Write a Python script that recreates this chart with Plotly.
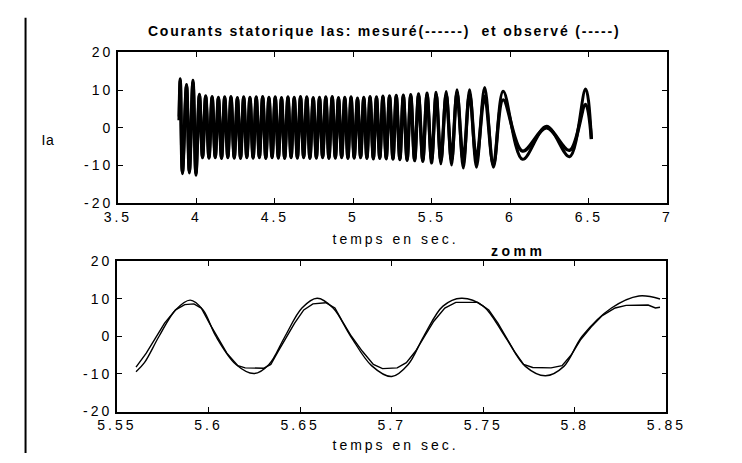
import plotly.graph_objects as go

# ---- Upper panel: stator current Ia, extrema of each oscillation (s, A) ----
top_t = [3.890, 3.897, 3.911, 3.937, 3.955, 3.978, 3.997, 4.019, 4.039, 4.059,
         4.080, 4.100, 4.120, 4.140, 4.160, 4.180, 4.200, 4.220, 4.241, 4.261,
         4.281, 4.301, 4.321, 4.341, 4.361, 4.381, 4.401, 4.422, 4.442, 4.462,
         4.482, 4.502, 4.522, 4.542, 4.562, 4.583, 4.603, 4.623, 4.643, 4.663,
         4.683, 4.703, 4.723, 4.744, 4.764, 4.784, 4.804, 4.824, 4.844, 4.865,
         4.885, 4.905, 4.925, 4.945, 4.965, 4.985, 5.005, 5.026, 5.046, 5.066,
         5.086, 5.106, 5.127, 5.147, 5.168, 5.188, 5.209, 5.230, 5.252, 5.273,
         5.296, 5.318, 5.342, 5.365, 5.390, 5.415, 5.442, 5.469, 5.498, 5.527,
         5.557, 5.591, 5.625, 5.660, 5.700, 5.740, 5.784, 5.836, 5.892, 5.954,
         6.077, 6.230, 6.377, 6.479, 6.516]
top_obs = [3.0, 13.0, -12.2, 11.5, -12.0, 12.6, -12.6, 8.9, -8.0, 8.5,
           -8.1, 8.3, -8.0, 8.1, -8.2, 8.2, -8.0, 8.3, -8.1, 8.0,
           -8.2, 8.2, -8.0, 8.1, -8.1, 8.2, -8.0, 8.3, -8.2, 8.1,
           -8.0, 8.2, -8.1, 8.0, -8.2, 8.2, -8.0, 8.1, -8.1, 8.3,
           -8.0, 8.2, -8.2, 8.0, -8.1, 8.1, -8.0, 8.2, -8.2, 8.3,
           -8.1, 8.0, -8.0, 8.1, -8.2, 8.2, -8.1, 7.9, -8.0, 8.1,
           -8.2, 8.3, -8.3, 8.2, -8.2, 8.4, -8.3, 8.5, -8.4, 8.6,
           -8.5, 8.7, -8.7, 8.8, -8.8, 9.0, -9.0, 9.2, -9.4, 9.4,
           -9.6, 9.6, -9.9, 10.1, -10.7, 10.1, -10.5, 10.7, -10.5, 9.7,
           -8.4, 0.4, -7.7, 10.3, -3.0]
top_mes = [2.0, 12.4, -11.8, 11.0, -11.5, 12.0, -12.0, 8.5, -7.7, 8.2,
           -7.8, 8.0, -7.7, 7.8, -7.9, 7.9, -7.7, 8.0, -7.8, 7.7,
           -7.9, 7.9, -7.7, 7.8, -7.8, 7.9, -7.7, 8.0, -7.9, 7.8,
           -7.7, 7.9, -7.8, 7.7, -7.9, 7.9, -7.7, 7.8, -7.8, 8.0,
           -7.7, 7.9, -7.9, 7.7, -7.8, 7.8, -7.7, 7.9, -7.9, 8.0,
           -7.8, 7.7, -7.7, 7.8, -7.9, 7.9, -7.8, 7.6, -7.7, 7.8,
           -7.9, 8.0, -8.0, 7.9, -7.9, 8.1, -8.0, 8.2, -8.1, 8.3,
           -8.2, 8.3, -8.3, 8.4, -8.4, 8.5, -8.5, 8.6, -8.4, 8.6,
           -8.5, 8.6, -8.4, 8.9, -8.6, 9.0, -8.3, 8.4, -9.8, 7.4,
           -6.2, 0.0, -6.0, 6.2, -3.0]

# ---- Lower panel: zoom on 5.55 - 5.85 s ----
zoom_obs_t = [5.5604, 5.5650, 5.5730, 5.5820, 5.5900, 5.5970, 5.6040, 5.6150,
              5.6250, 5.6330, 5.6418, 5.6510, 5.6593, 5.6680, 5.6776, 5.6890,
              5.7000, 5.7090, 5.7175, 5.7280, 5.7380, 5.7500, 5.7618, 5.7730,
              5.7840, 5.7940, 5.8040, 5.8200, 5.8350, 5.8465]
zoom_obs = [-9.4, -7.0, 0.0, 7.0, 9.6, 7.0, 0.0, -7.5,
            -9.9, -7.5, 0.0, 7.5, 10.1, 7.5, 0.0, -7.8,
            -10.7, -7.5, 0.0, 8.0, 10.1, 8.0, 0.0, -8.0,
            -10.5, -8.0, 0.0, 7.5, 10.7, 9.9]
zoom_mes_t = [5.5604, 5.5660, 5.5710, 5.5760, 5.5820, 5.5870, 5.5920, 5.5960,
              5.6010, 5.6050, 5.6100, 5.6160, 5.6200, 5.6300, 5.6340, 5.6380,
              5.6420, 5.6470, 5.6520, 5.6570, 5.6640, 5.6690, 5.6730, 5.6780,
              5.6840, 5.6900, 5.6950, 5.7030, 5.7080, 5.7130, 5.7180, 5.7230,
              5.7290, 5.7350, 5.7470, 5.7530, 5.7580, 5.7620, 5.7670, 5.7720,
              5.7770, 5.7870, 5.7930, 5.7980, 5.8030, 5.8090, 5.8150, 5.8220,
              5.8280, 5.8400, 5.8440, 5.8465]
zoom_mes = [-8.2, -4.5, -0.5, 3.5, 7.0, 8.4, 8.6, 7.5,
            3.0, -0.5, -4.5, -7.8, -8.4, -8.5, -7.5, -4.0,
            -0.5, 3.5, 7.0, 8.6, 8.9, 7.5, 4.0, 0.0,
            -4.0, -7.5, -8.6, -8.4, -7.0, -4.0, 0.0, 4.0,
            7.5, 9.0, 9.0, 7.0, 3.5, 0.0, -4.0, -7.5,
            -8.3, -8.4, -7.8, -5.0, -1.0, 2.5, 5.5, 7.5,
            8.2, 8.3, 7.5, 7.7]

top_xticks = [3.5, 4, 4.5, 5, 5.5, 6, 6.5, 7]
top_xtext = ["3.5", "4", "4.5", "5", "5.5", "6", "6.5", "7"]
zoom_xticks = [5.55, 5.6, 5.65, 5.7, 5.75, 5.8, 5.85]
zoom_xtext = ["5.55", "5.6", "5.65", "5.7", "5.75", "5.8", "5.85"]
yticks = [-20, -10, 0, 10, 20]
ytext = ["-20", "-10", "0", "10", "20"]

W, H = 742, 463
FONT = "Liberation Sans, Arial, Helvetica, sans-serif"

fig = go.Figure()
fig.add_trace(go.Scatter(x=top_t, y=top_mes, mode="lines", name="mesuré",
                         line=dict(color="black", width=3.4, shape="spline", smoothing=1.0),
                         xaxis="x", yaxis="y"))
fig.add_trace(go.Scatter(x=top_t, y=top_obs, mode="lines", name="observé",
                         line=dict(color="black", width=3.0, shape="spline", smoothing=1.0),
                         xaxis="x", yaxis="y"))
fig.add_trace(go.Scatter(x=zoom_mes_t, y=zoom_mes, mode="lines", name="mesuré",
                         line=dict(color="black", width=1.4),
                         xaxis="x2", yaxis="y2"))
fig.add_trace(go.Scatter(x=zoom_obs_t, y=zoom_obs, mode="lines", name="observé",
                         line=dict(color="black", width=1.4, shape="spline", smoothing=1.0),
                         xaxis="x2", yaxis="y2"))

axis_common = dict(showgrid=False, zeroline=False, showline=True, linecolor="black",
                   linewidth=1.8, mirror="ticks", ticks="inside", ticklen=5,
                   tickwidth=1, tickcolor="black",
                   tickfont=dict(family=FONT, size=14, color="black"))


def px_x(p):
    return p / W


def px_y(p):
    return 1 - p / H


fig.update_layout(
    width=W, height=H, showlegend=False,
    margin=dict(l=0, r=0, t=0, b=0),
    paper_bgcolor="white", plot_bgcolor="white",
    xaxis=dict(axis_common, domain=[px_x(108), px_x(679)], range=[3.5, 7],
               tickvals=top_xticks, ticktext=top_xtext, anchor="y"),
    yaxis=dict(axis_common, domain=[px_y(202), px_y(46)], range=[-20, 20],
               tickvals=yticks, ticktext=ytext, anchor="x"),
    xaxis2=dict(axis_common, domain=[px_x(107), px_x(678)], range=[5.55, 5.85],
                tickvals=zoom_xticks, ticktext=zoom_xtext, anchor="y2"),
    yaxis2=dict(axis_common, domain=[px_y(418), px_y(262)], range=[-20, 20],
                tickvals=yticks, ticktext=ytext, anchor="x2"),
)

ann = [
    dict(text="<b>Courants statorique Ias: mesuré(------)  et observé (-----)</b>",
         x=px_x(384), y=px_y(24), size=14),
    dict(text="temps en sec.", x=px_x(396), y=px_y(239), size=14),
    dict(text="<b>zomm</b>", x=px_x(524), y=px_y(252), size=14),
    dict(text="temps en sec.", x=px_x(396), y=px_y(453), size=14),
    dict(text="Ia", x=px_x(35), y=px_y(137), size=14),
]
for a in ann:
    size = a.pop("size")
    fig.add_annotation(xref="paper", yref="paper", showarrow=False,
                       xanchor="center", yanchor="middle",
                       font=dict(family=FONT, size=size, color="black"), **a)

# page border line on the left
fig.add_shape(type="line", xref="paper", yref="paper",
              x0=px_x(12), x1=px_x(12), y0=px_y(10), y1=px_y(461),
              line=dict(color="black", width=2))

# wider letter spacing, as in the printed original
spacing_js = """
var gd = document.getElementById('{plot_id}');
function spaceText() {
  gd.querySelectorAll('text').forEach(function (t) {
    var s = t.textContent;
    var ls = '3px';
    if (s.indexOf('Courants') === 0) { ls = '1.8px'; }
    else if (s === 'zomm') { ls = '3.5px'; }
    else if (s === 'Ia') { ls = '0.5px'; }
    t.style.letterSpacing = ls;
  });
}
spaceText();
gd.on('plotly_afterplot', spaceText);
"""
fig.write_html("out.html", post_script=spacing_js)
